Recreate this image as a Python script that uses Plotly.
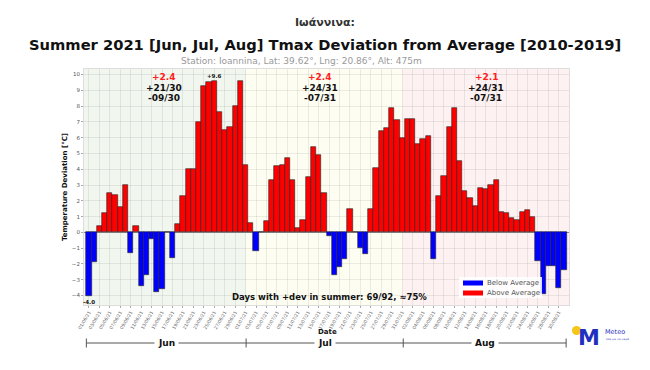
import plotly.graph_objects as go
import pandas as pd

# ---- data ----
jun_dev = [-4.0, -1.9, 0.4, 1.2, 2.5, 2.4, 1.6, 3.0, -1.3, 0.4, -3.4, -2.7, -0.4, -3.8, -3.6,
           0.0, -1.6, 0.5, 2.3, 4.0, 4.0, 7.0, 9.3, 9.5, 9.6, 7.6, 6.5, 6.7, 8.0, 9.6]
jul_dev = [4.3, 0.6, -1.2, 0.0, 0.7, 3.3, 4.2, 4.3, 4.7, 3.3, 0.3, 0.8, 3.5, 5.4, 4.9, 2.5,
           -0.2, -2.7, -2.2, -1.7, 1.5, 0.0, -1.0, -1.4, 1.5, 4.1, 6.4, 6.6, 7.9, 7.1, 6.0]
aug_dev = [7.2, 7.2, 5.6, 5.9, 6.1, -1.7, 2.3, 3.6, 6.7, 7.9, 4.5, 2.6, 2.2, 1.7, 2.8, 2.75,
           3.0, 3.3, 1.3, 1.2, 0.9, 0.8, 1.3, 1.4, 1.0, -1.8, -3.9, -2.1, -2.1, -3.5, -2.4]
months = ["Jun", "Jul", "Aug"]
legend_names = ["Below Average", "Above Average"]
dates = pd.date_range("2021-06-01", "2021-08-31", freq="D")
date_labels = [d.strftime("%d/%m/%y") for d in dates]

values = jun_dev + jul_dev + aug_dev
idx = list(range(len(values)))
pos_vals = [v if v >= 0 else None for v in values]
neg_vals = [v if v < 0 else None for v in values]

BLUE, RED = "#0000ff", "#ff0000"

# page body has an 8px margin; figure is sized so the whole page is 650x370
OFF = 8
W, H = 650 - 2 * OFF, 370 - 2 * OFF
# plot area in reference-pixel coordinates
RL, RT, RR, RB = 84, 69, 569, 305
L, T, R, B = RL - OFF, RT - OFF, RR - OFF, RB - OFF
def ppx(p):
    return (p - RL) / (RR - RL)
def ppy(p):
    return (RB - p) / (RB - RT)

fig = go.Figure()
fig.add_trace(go.Bar(x=idx, y=pos_vals, width=1, name=legend_names[1],
                     marker=dict(color=RED, line=dict(color="#222", width=0.6)), showlegend=False))
fig.add_trace(go.Bar(x=idx, y=neg_vals, width=1, name=legend_names[0],
                     marker=dict(color=BLUE, line=dict(color="#222", width=0.6)), showlegend=False))

# month boundaries (index space)
bounds = [-0.95, 30.1, 60.0, 91.95]
bg_colors = ["#f1f6ef", "#fdfdf1", "#fdf1f1"]
shapes = []
for i in range(3):
    shapes.append(dict(type="rect", xref="x", yref="paper", x0=bounds[i], x1=bounds[i + 1], y0=0, y1=1,
                       fillcolor=bg_colors[i], line=dict(width=0), layer="below"))

# manual legend box
shapes.append(dict(type="rect", xref="paper", yref="paper", x0=ppx(459), x1=ppx(542), y0=ppy(298), y1=ppy(277),
                   fillcolor="rgba(255,255,255,0.85)", line=dict(width=0)))
shapes.append(dict(type="rect", xref="paper", yref="paper", x0=ppx(463), x1=ppx(483), y0=ppy(285.5), y1=ppy(280.5),
                   fillcolor=BLUE, line=dict(width=0)))
shapes.append(dict(type="rect", xref="paper", yref="paper", x0=ppx(463), x1=ppx(483), y0=ppy(295.5), y1=ppy(290.5),
                   fillcolor=RED, line=dict(width=0)))

# month bracket below axis
br_y = ppy(343)
tick_b = [-0.5, 30.1, 60.2, 91.4]
shapes.append(dict(type="line", xref="x", yref="paper", x0=tick_b[0], x1=tick_b[-1], y0=br_y, y1=br_y,
                   line=dict(color="#555", width=1)))
for tb in tick_b:
    shapes.append(dict(type="line", xref="x", yref="paper", x0=tb, x1=tb, y0=ppy(338.5), y1=ppy(347.5),
                       line=dict(color="#555", width=1)))

# logo
shapes.append(dict(type="circle", xref="paper", yref="paper", x0=ppx(572), x1=ppx(581), y0=ppy(335), y1=ppy(326),
                   fillcolor="#f5c518", line=dict(width=0)))

annotations = []
# titles
annotations.append(dict(text="<b>Ιωάννινα:</b>", x=ppx(325), xref="paper", y=ppy(22), yref="paper", showarrow=False,
                        font=dict(family="DejaVu Sans", size=11, color="#333"), xanchor="center", yanchor="middle"))
annotations.append(dict(text="<b>Summer 2021 [Jun, Jul, Aug] Tmax Deviation from Average [2010-2019]</b>",
                        x=ppx(325), xref="paper", y=ppy(44), yref="paper", showarrow=False,
                        font=dict(family="DejaVu Sans", size=14.7, color="#111"), xanchor="center", yanchor="middle"))
annotations.append(dict(text="Station: Ioannina, Lat: 39.62°, Lng: 20.86°, Alt: 475m",
                        x=ppx(301), xref="paper", y=ppy(61), yref="paper", showarrow=False,
                        font=dict(family="DejaVu Sans", size=9, color="#999"), xanchor="center", yanchor="middle"))

# per-month summaries
month_vals = [jun_dev, jul_dev, aug_dev]
month_centers = [14.3, 44.2, 76.1]
for mv, cx in zip(month_vals, month_centers):
    n = len(mv)
    mean = sum(mv) / n
    npos = sum(1 for v in mv if v >= 0)
    nneg = n - npos
    annotations.append(dict(text=f"<b>{mean:+.1f}</b>", x=cx, xref="x", y=ppy(77), yref="paper", showarrow=False,
                            font=dict(family="DejaVu Sans", size=9, color="#ff2020"), yanchor="middle"))
    annotations.append(dict(text=f"<b>+{npos:02d}/{n}</b>", x=cx, xref="x", y=ppy(88), yref="paper",
                            showarrow=False, font=dict(family="DejaVu Sans", size=9, color="#111"), yanchor="middle"))
    annotations.append(dict(text=f"<b>-{nneg:02d}/{n}</b>", x=cx, xref="x", y=ppy(97.5), yref="paper",
                            showarrow=False, font=dict(family="DejaVu Sans", size=9, color="#111"), yanchor="middle"))

# max / min labels
imax = values.index(max(values))
imin = values.index(min(values))
annotations.append(dict(text=f"<b>{values[imax]:+.1f}</b>", x=imax, xref="x", y=values[imax], yref="y",
                        showarrow=False, yanchor="bottom", yshift=0, font=dict(family="DejaVu Sans", size=5.5, color="#111")))
annotations.append(dict(text=f"<b>{values[imin]:.1f}</b>", x=imin, xref="x", y=values[imin], yref="y",
                        showarrow=False, yanchor="top", yshift=-1, font=dict(family="DejaVu Sans", size=5.5, color="#111")))

# days with +dev
tot = len(values)
tpos = sum(1 for v in values if v >= 0)
annotations.append(dict(text=f"<b>Days with +dev in summer: {tpos}/{tot}, ≈{round(100*tpos/tot)}%</b>",
                        x=ppx(329), xref="paper", y=ppy(296.5), yref="paper", showarrow=False,
                        font=dict(family="DejaVu Sans", size=8.5, color="#111"), xanchor="center", yanchor="middle"))

# legend labels
annotations.append(dict(text=legend_names[0], x=ppx(485), xref="paper", y=ppy(283), yref="paper", showarrow=False,
                        font=dict(family="DejaVu Sans", size=7, color="#555"), xanchor="left", yanchor="middle"))
annotations.append(dict(text=legend_names[1], x=ppx(485), xref="paper", y=ppy(293), yref="paper", showarrow=False,
                        font=dict(family="DejaVu Sans", size=7, color="#555"), xanchor="left", yanchor="middle"))

# Date label
annotations.append(dict(text="<b>Date</b>", x=ppx(327), xref="paper", y=ppy(332), yref="paper", showarrow=False,
                        font=dict(family="DejaVu Sans", size=7, color="#111"), yanchor="middle"))
# month labels
for m, a, b in zip(months, tick_b[:-1], tick_b[1:]):
    annotations.append(dict(text=f"<b>{m}</b>", x=(a + b) / 2, xref="x", y=br_y, yref="paper", showarrow=False,
                            font=dict(family="DejaVu Sans", size=9, color="#111"), yanchor="middle",
                            bgcolor="white", borderpad=3))
# logo text
annotations.append(dict(text="<b>M</b>", x=ppx(589), xref="paper", y=ppy(337), yref="paper", showarrow=False,
                        font=dict(family="DejaVu Sans", size=22, color="#1f2fbf"), yanchor="middle", xanchor="center"))
annotations.append(dict(text="Meteo", x=ppx(603), xref="paper", y=ppy(332), yref="paper", showarrow=False,
                        font=dict(family="DejaVu Sans", size=6.5, color="#1f2fbf"), yanchor="middle", xanchor="left"))
annotations.append(dict(text="Όλα για τον καιρό", x=ppx(603), xref="paper", y=ppy(339), yref="paper", showarrow=False,
                        font=dict(family="DejaVu Sans", size=2.5, color="#1f2fbf"), yanchor="middle", xanchor="left"))

fig.update_layout(
    width=W, height=H,
    margin=dict(l=L, r=W - R, t=T, b=H - B, autoexpand=False),
    paper_bgcolor="white", plot_bgcolor="white",
    barmode="overlay", bargap=0, showlegend=False,
    font=dict(family="DejaVu Sans", color="#333"),
    shapes=shapes, annotations=annotations,
    xaxis=dict(range=[bounds[0], bounds[-1]], tickmode="array", tickvals=idx[::2], ticktext=date_labels[::2],
               tickangle=-60, tickfont=dict(size=4.5, color="#666"), ticks="outside", ticklen=2, tickcolor="#aaa",
               showgrid=True, gridcolor="rgba(0,0,0,0.07)", gridwidth=1, zeroline=False, automargin=False,
               showline=True, linecolor="#ddd", linewidth=1, mirror=True),
    yaxis=dict(range=[-4.6, 10.35], tickmode="linear", tick0=-4, dtick=1, automargin=False,
               tickfont=dict(size=5.5, color="#555"), ticks="outside", ticklen=2, tickcolor="#aaa",
               showgrid=True, gridcolor="rgba(0,0,0,0.07)", zeroline=True, zerolinecolor="#888", zerolinewidth=1,
               showline=True, linecolor="#ddd", linewidth=1, mirror=True,
               title=dict(text="<b>Temperature Deviation [°C]</b>", font=dict(size=7, color="#111"), standoff=3)),
)

fig.write_html("out.html")
